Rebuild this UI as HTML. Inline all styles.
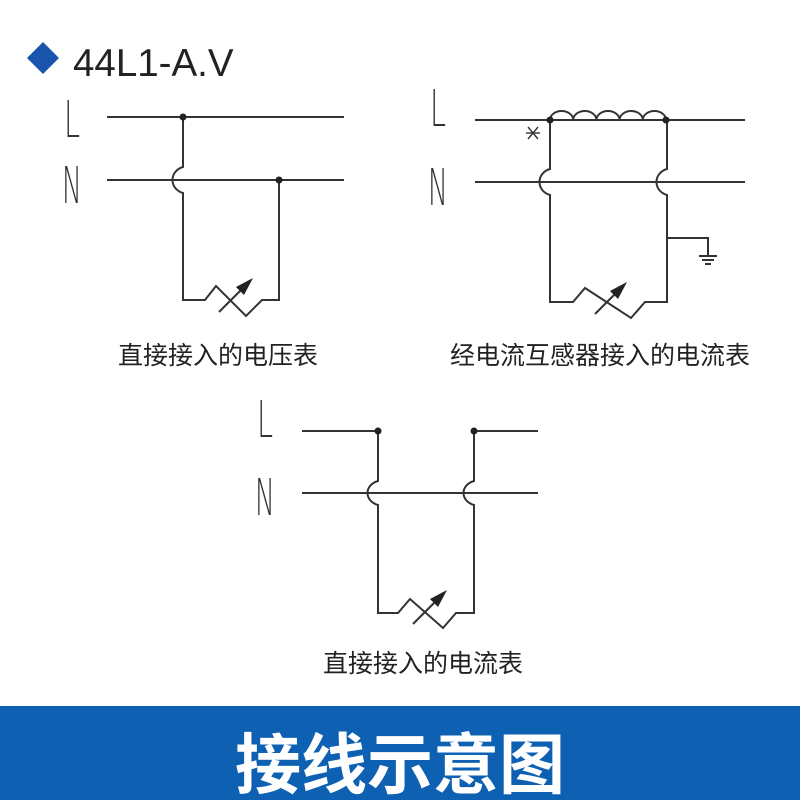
<!DOCTYPE html>
<html><head><meta charset="utf-8"><style>
html,body{margin:0;padding:0;background:#fff;width:800px;height:800px;overflow:hidden}
svg{display:block}
</style></head><body>
<svg width="800" height="800" viewBox="0 0 800 800" xmlns="http://www.w3.org/2000/svg">
<rect width="800" height="800" fill="#fff"/>
<polygon points="43,42 59,58 43,74 27,58" fill="#1a55ad"/>
<text x="73" y="76" font-family="Liberation Sans, sans-serif" font-size="38.5" fill="#222">44L1-A.V</text>

<g font-family="DejaVu Sans, Liberation Sans, sans-serif" font-weight="200" fill="#333">
<text transform="translate(64,137) scale(0.6,1.05)" font-size="48">L</text>
<text transform="translate(62,203) scale(0.55,1.05)" font-size="48">N</text>
<text transform="translate(430,126) scale(0.6,1.05)" font-size="48">L</text>
<text transform="translate(428,205) scale(0.55,1.05)" font-size="48">N</text>
<text transform="translate(257,437) scale(0.6,1.05)" font-size="48">L</text>
<text transform="translate(255,515) scale(0.55,1.05)" font-size="48">N</text>
</g>

<g stroke="#333" stroke-width="2" fill="none">
<line x1="107" y1="117" x2="344" y2="117"/>
<line x1="107" y1="180" x2="344" y2="180"/>
<path d="M183,117 V167 C169,171 169,189 183,193 V300 H205 L216,286 L246,316 L262,300 H279 V180"/>
<line x1="219" y1="312" x2="246" y2="285"/>
<line x1="475" y1="120" x2="745" y2="120"/>
<line x1="475" y1="182" x2="745" y2="182"/>
<path d="M550,120 a11.6,9 0 0 1 23.2,0 a11.6,9 0 0 1 23.2,0 a11.6,9 0 0 1 23.2,0 a11.6,9 0 0 1 23.2,0 a11.6,9 0 0 1 23.2,0"/>
<path d="M550,120 V169 C536,173 536,191 550,195 V302 H573 L585,288 L631,318 L645,302 H667 V195 C653,191 653,173 667,169 V120"/>
<line x1="595" y1="314" x2="620" y2="289"/>
<path d="M667,238 H708 V255"/>
<line x1="699" y1="256" x2="717" y2="256"/>
<line x1="702" y1="260" x2="714" y2="260"/>
<line x1="705" y1="264" x2="711" y2="264"/>
<line x1="526" y1="133" x2="540" y2="133" stroke-width="1.4"/>
<line x1="528" y1="127" x2="538" y2="139" stroke-width="1.4"/>
<line x1="538" y1="127" x2="528" y2="139" stroke-width="1.4"/>
<line x1="302" y1="431" x2="378" y2="431"/>
<line x1="474" y1="431" x2="538" y2="431"/>
<line x1="302" y1="493" x2="538" y2="493"/>
<path d="M378,431 V481 C364,485 364,501 378,505 V613 H398 L410,599 L443,628 L456,613 H474 V505 C460,501 460,485 474,481 V431"/>
<line x1="413" y1="624" x2="440" y2="597"/>
</g>
<g fill="#222">
<circle cx="183" cy="117" r="3.5"/><circle cx="279" cy="180" r="3.5"/>
<circle cx="550" cy="120" r="3.5"/><circle cx="666" cy="120" r="3.5"/>
<circle cx="378" cy="431" r="3.5"/><circle cx="474" cy="431" r="3.5"/>
<polygon points="253,278 236,287 244,295"/>
<polygon points="627,282 610,291 618,299"/>
<polygon points="447,590 430,599 438,607"/>
</g>

<g font-family="Liberation Sans, Noto Sans CJK SC, sans-serif" font-size="25" fill="#222">
<text x="118" y="364">直接接入的电压表</text>
<text x="450" y="364">经电流互感器接入的电流表</text>
<text x="323" y="672">直接接入的电流表</text>
</g>

<rect x="0" y="706" width="800" height="94" fill="#0d60b2"/>
<text x="400" y="788" text-anchor="middle" font-family="Liberation Sans, Noto Sans CJK SC, sans-serif" font-weight="bold" font-size="66" fill="#fff">接线示意图</text>
</svg>
</body></html>
